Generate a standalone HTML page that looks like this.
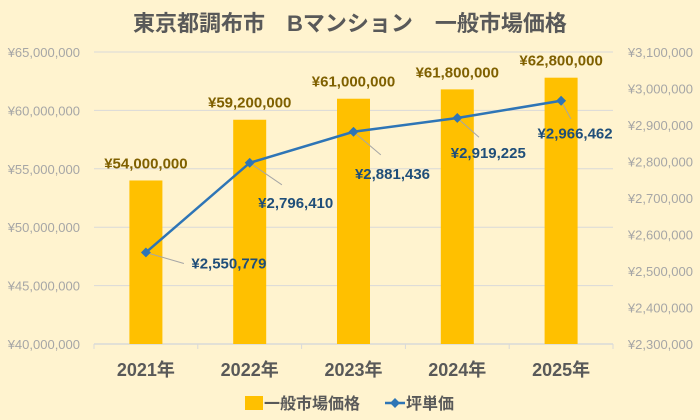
<!DOCTYPE html>
<html><head><meta charset="utf-8"><style>
html,body{margin:0;padding:0;background:#fff3cf;}
svg{display:block;font-family:"Liberation Sans","Noto Sans CJK JP",sans-serif;}
</style></head><body>
<svg id="chart" width="700" height="420" viewBox="0 0 700 420">
<rect x="0" y="0" width="700" height="420" fill="#fff3cf"/>
<text x="350" y="31" text-anchor="middle" font-size="22" font-weight="bold" fill="#595959">東京都調布市　Bマンション　一般市場価格</text>
<g id="grid"></g><g id="bars"></g><g id="line"></g><g id="labels"></g>
<g>
<rect x="245" y="396" width="18" height="14" fill="#ffc000"/>
<text x="264" y="409" font-size="16" font-weight="bold" fill="#595959">一般市場価格</text>
<line x1="385" y1="403" x2="405" y2="403" stroke="#2e75b6" stroke-width="2.5"/>
<rect x="391.5" y="399.5" width="7" height="7" fill="#2e75b6" transform="rotate(45 395 403)"/>
<text x="406" y="409" font-size="16" font-weight="bold" fill="#595959">坪単価</text>
</g>
</svg>
<script>
const categories=["2021年","2022年","2023年","2024年","2025年"];
const priceValues=[54000000,59200000,61000000,61800000,62800000];
const tsuboValues=[2550779,2796410,2881436,2919225,2966462];
const leftTicks=[40000000,45000000,50000000,55000000,60000000,65000000];
const rightTicks=[2300000,2400000,2500000,2600000,2700000,2800000,2900000,3000000,3100000];
const NS="http://www.w3.org/2000/svg";
const X0=94,X1=613,YT=52,YB=344;
const bw=(X1-X0)/categories.length;
const xc=i=>X0+bw*(i+0.5);
const yL=v=>YB-(v-40000000)/(65000000-40000000)*(YB-YT);
const yR=v=>YB-(v-2300000)/(3100000-2300000)*(YB-YT);
const fmt=v=>"¥"+v.toLocaleString("en-US");
function mk(tag,attrs,parent,text){const e=document.createElementNS(NS,tag);for(const k in attrs)e.setAttribute(k,attrs[k]);if(text!==undefined)e.textContent=text;document.getElementById(parent).appendChild(e);return e;}
leftTicks.forEach(v=>{
 const l=mk("line",{x1:X0,x2:X1,y1:yL(v),y2:yL(v),stroke:"#d9d9d9","stroke-width":1},"grid");
 
 
 const t=mk("text",{x:80,y:yL(v)+5,"text-anchor":"end","font-size":13,fill:"#a6a6a6"},"grid",fmt(v));
 
 
});
rightTicks.forEach(v=>{
 const t=mk("text",{x:693,y:yR(v)+5,"text-anchor":"end","font-size":13,fill:"#a6a6a6"},"grid",fmt(v));
 
 
});
for(let i=0;i<=categories.length;i++){
 const tk=mk("line",{x1:X0+bw*i,x2:X0+bw*i,y1:YB,y2:YB+5,stroke:"#d9d9d9"},"grid");
 
 
}
categories.forEach((c,i)=>{
 const t=mk("text",{x:xc(i),y:376,"text-anchor":"middle","font-size":18,"font-weight":"bold",fill:"#595959"},"grid",c);
 
 
 const b=mk("rect",{x:xc(i)-16.5,y:yL(priceValues[i]),width:33,height:YB-yL(priceValues[i]),fill:"#ffc000"},"bars");
 
 
 const bl=mk("text",{x:xc(i),y:yL(priceValues[i])-12,"text-anchor":"middle","font-size":15,"font-weight":"bold",fill:"#7f6000"},"labels",fmt(priceValues[i]));
 
 
});
const axis=mk("line",{x1:X0,x2:X1,y1:YB,y2:YB,stroke:"#d9d9d9","stroke-width":1.5},"grid");


const pts=tsuboValues.map((v,i)=>xc(i)+","+yR(v)).join(" ");
const pl=mk("polyline",{points:pts,fill:"none",stroke:"#2e75b6","stroke-width":2.5},"line");


const offs=[[83,11],[46,40],[39,42],[31,35],[14,33]];
tsuboValues.forEach((v,i)=>{
 const x=xc(i),y=yR(v),[dx,dy]=offs[i];
 const ld=mk("line",{x1:x,y1:y,x2:x+(i==0?dx-45:dx*0.7),y2:y+(i==0?dy:dy*0.55),stroke:"#a6a6a6","stroke-width":1},"line");
 
 
 const m=mk("rect",{x:x-3.5,y:y-3.5,width:7,height:7,fill:"#2e75b6",transform:`rotate(45 ${x} ${y})`},"line");
 
 
 const t=mk("text",{x:x+dx,y:y+dy+5,"text-anchor":"middle","font-size":15,"font-weight":"bold",fill:"#1f4e79"},"labels",fmt(v));
 
 
});
</script>
</body></html>
